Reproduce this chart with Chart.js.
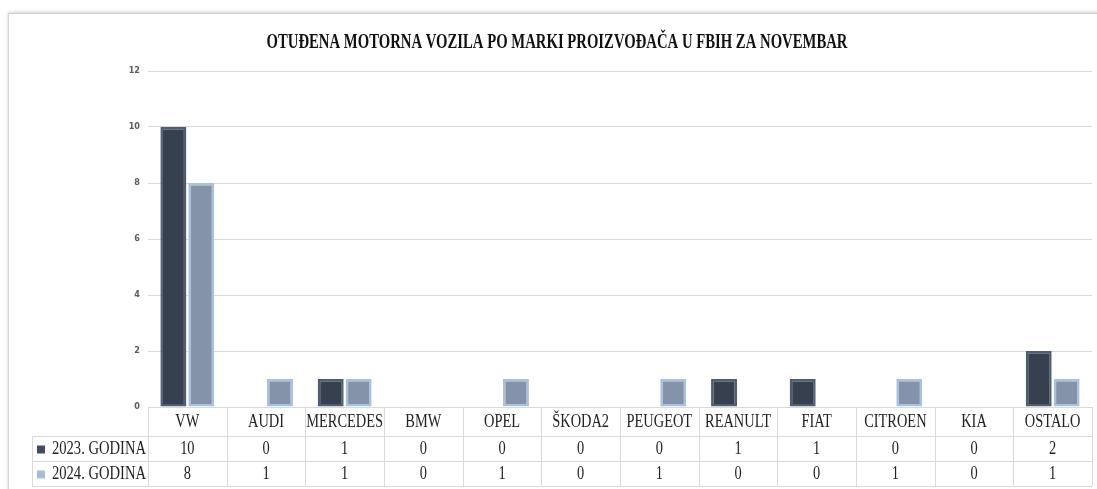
<!DOCTYPE html>
<html lang="bs">
<head>
<meta charset="UTF-8">
<title>Otuđena motorna vozila</title>
<style>
* { margin: 0; padding: 0; box-sizing: border-box; }
body { width: 1097px; height: 489px; overflow: hidden; background: #fff; position: relative; }
.card {
    position: absolute; left: 8px; top: 13px; width: 1100px; height: 490px;
    border-left: 1px solid #d6d6d6; border-top: 1px solid #cfcfcf;
    box-shadow: 0 -1px 3px rgba(0,0,0,0.18);
    background: #fff;
}
#chart { position: absolute; left: 0; top: 0; }
</style>
</head>
<body>
<div class="card"></div>
<canvas id="chart" width="1097" height="489"></canvas>
<script src="https://cdn.jsdelivr.net/npm/chart.js@4"></script>
<script>
// data
const chartTitle = 'OTUĐENA MOTORNA VOZILA PO MARKI PROIZVOĐAČA U FBIH ZA NOVEMBAR';
const categories = ['VW', 'AUDI', 'MERCEDES', 'BMW', 'OPEL', 'ŠKODA2', 'PEUGEOT', 'REANULT', 'FIAT', 'CITROEN', 'KIA', 'OSTALO'];
const seriesNames = ['2023. GODINA', '2024. GODINA'];
const values2023 = [10, 0, 1, 0, 0, 0, 0, 1, 1, 0, 0, 2];
const values2024 = [8, 1, 1, 0, 1, 0, 1, 0, 0, 1, 0, 1];
const yMax = 12;
const yStep = 2;

const serif = '"Liberation Serif", "DejaVu Serif", serif';
const gridCol = '#d9d9d9';

// draw text squeezed horizontally (the original font is narrower than Times)
function narrowText(ctx, text, x, y, sx, align) {
    ctx.save();
    ctx.translate(x, y);
    ctx.scale(sx, 1);
    ctx.textAlign = align || 'center';
    ctx.fillText(text, 0, 0);
    ctx.restore();
}

const tablePlugin = {
    id: 'dataTable',
    afterDraw(chart) {
        const ctx = chart.ctx;
        const x = chart.scales.x;
        const area = chart.chartArea;
        const left = area.left, right = area.right;
        const top = area.bottom;
        const rowY = [top, top + 29, top + 54, top + 79];
        const legendLeft = 32;
        const colW = (right - left) / categories.length;

        ctx.save();
        ctx.strokeStyle = gridCol;
        ctx.lineWidth = 1;
        ctx.beginPath();
        for (let r = 1; r < rowY.length; r++) {
            ctx.moveTo(legendLeft, rowY[r] + 0.5);
            ctx.lineTo(right, rowY[r] + 0.5);
        }
        ctx.moveTo(legendLeft + 0.5, rowY[1]);
        ctx.lineTo(legendLeft + 0.5, rowY[3]);
        for (let i = 0; i <= categories.length; i++) {
            const cx = Math.round(left + i * colW) + 0.5;
            ctx.moveTo(cx, rowY[0]);
            ctx.lineTo(cx, rowY[3]);
        }
        ctx.stroke();

        ctx.fillStyle = '#222';
        ctx.font = '18px ' + serif;
        ctx.textBaseline = 'middle';
        const rows = [values2023, values2024];
        categories.forEach((c, i) => {
            const cx = x.getPixelForValue(i);
            narrowText(ctx, c, cx, (rowY[0] + rowY[1]) / 2 + 1, 0.8);
            rows.forEach((vals, r) => {
                narrowText(ctx, String(vals[i]), cx, (rowY[r + 1] + rowY[r + 2]) / 2 + 1, 0.8);
            });
        });

        seriesNames.forEach((name, r) => {
            const ds = chart.data.datasets[r];
            const cy = (rowY[r + 1] + rowY[r + 2]) / 2;
            ctx.fillStyle = ds.keyColor;
            ctx.fillRect(37, cy - 3, 8, 8);
            ctx.fillStyle = '#222';
            narrowText(ctx, name, 52, cy + 1, 0.81, 'left');
        });

        // title
        ctx.fillStyle = '#111';
        ctx.font = 'bold 22px ' + serif;
        ctx.textAlign = 'center';
        ctx.fillText(chartTitle, 557, 42, 581);
        ctx.restore();
    }
};

new Chart(document.getElementById('chart'), {
    type: 'bar',
    data: {
        labels: categories,
        datasets: [{
            label: seriesNames[0],
            data: values2023,
            backgroundColor: '#36404f',
            borderColor: '#4e5d72',
            keyColor: '#414c5e',
            borderWidth: c => (c.raw ? 2.5 : 0),
            borderSkipped: false
        }, {
            label: seriesNames[1],
            data: values2024,
            backgroundColor: '#8593aa',
            borderColor: '#a8c1de',
            keyColor: '#a9bcd6',
            borderWidth: c => (c.raw ? 2.5 : 0),
            borderSkipped: false
        }]
    },
    options: {
        responsive: false,
        animation: false,
        layout: { padding: { top: 71, right: 5, left: 0, bottom: 0 } },
        categoryPercentage: 0.71,
        barPercentage: 0.93,
        plugins: {
            legend: { display: false },
            title: { display: false },
            tooltip: { enabled: false }
        },
        scales: {
            x: {
                grid: { display: false },
                border: { display: false },
                ticks: { display: false },
                afterFit(scale) { scale.height = 82; }
            },
            y: {
                min: 0,
                max: yMax,
                ticks: {
                    stepSize: yStep,
                    padding: 8,
                    color: '#595959',
                    font: { family: '"DejaVu Sans Condensed", "DejaVu Sans", sans-serif', size: 9, weight: 'bold' }
                },
                grid: { color: gridCol, drawTicks: false },
                border: { display: false },
                afterFit(scale) { scale.width = 148; }
            }
        }
    },
    plugins: [tablePlugin]
});
</script>
</body>
</html>
